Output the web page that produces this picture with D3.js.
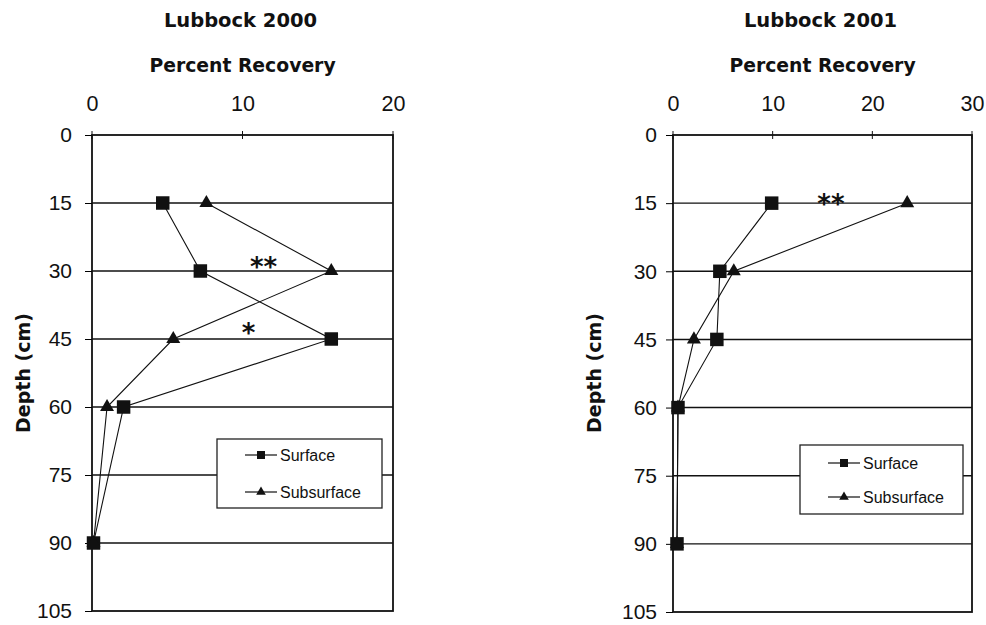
<!DOCTYPE html>
<html><head><meta charset="utf-8">
<script src="https://cdn.jsdelivr.net/npm/d3@7"></script>
<style>body{margin:0;background:#fff}svg{display:block}text{font-family:"Liberation Sans",Arial,sans-serif;fill:#111}</style>
</head><body><svg id="c" width="986" height="625"></svg>
<script>
const depths = [15, 30, 45, 60, 90];
const depthTicks = [0, 15, 30, 45, 60, 75, 90, 105];
const gridDepths = [15, 30, 45, 60, 75, 90];
const series = ["Surface", "Subsurface"];
// Lubbock 2000
const surface2000 = [4.7, 7.2, 15.9, 2.1, 0.1];
const subsurface2000 = [7.6, 15.9, 5.4, 1.0, 0.1];
const xTicks2000 = [0, 10, 20];
// Lubbock 2001
const surface2001 = [9.9, 4.7, 4.4, 0.5, 0.4];
const subsurface2001 = [23.5, 6.1, 2.1, 0.5, 0.4];
const xTicks2001 = [0, 10, 20, 30];
const stars2000 = [{x: 11.4, d: 27.8, t: "**"}, {x: 10.4, d: 42.4, t: "*"}];
const stars2001 = [{x: 15.85, d: 13.75, t: "**"}];

const svg = d3.select("#c");
const bold = "'DejaVu Sans',Verdana,sans-serif";

function panel(cfg) {
  const g = svg.append("g");
  const x = d3.scaleLinear().domain([0, cfg.xmax]).range([cfg.left, cfg.right]);
  const y = d3.scaleLinear().domain([0, 105]).range([cfg.top, cfg.bottom]);
  const cx = (cfg.left + cfg.right) / 2;
  g.append("text").attr("x", cx - 2).attr("y", 27).attr("text-anchor", "middle")
    .style("font-family", bold).style("font-weight", "bold").style("font-size", "19.5px").text(cfg.title);
  g.append("text").attr("x", cx).attr("y", 72).attr("text-anchor", "middle")
    .style("font-family", bold).style("font-weight", "bold").style("font-size", "18.8px").text("Percent Recovery");
  // grid
  g.selectAll(".grid").data(gridDepths).enter().append("line")
    .attr("x1", cfg.left).attr("x2", cfg.right)
    .attr("y1", d => y(d)).attr("y2", d => y(d))
    .attr("stroke", "#111").attr("stroke-width", 1.4);
  // frame
  g.append("rect").attr("x", cfg.left).attr("y", cfg.top)
    .attr("width", cfg.right - cfg.left).attr("height", cfg.bottom - cfg.top)
    .attr("fill", "none").attr("stroke", "#111").attr("stroke-width", 1.8);
  // axes
  const yAxis = d3.axisLeft(y).tickValues(depthTicks).tickSize(7).tickPadding(cfg.ypad);
  const ga = g.append("g").attr("transform", `translate(${cfg.left},0)`).call(yAxis);
  ga.select(".domain").remove();
  ga.selectAll("text").style("font-size", "21px").attr("dy", "0.32em").style("fill", "#111");
  const xAxis = d3.axisTop(x).tickValues(cfg.xticks).tickSize(0).tickPadding(0);
  const gx = g.append("g").attr("transform", `translate(0,111)`).call(xAxis);
  gx.select(".domain").remove();
  gx.selectAll("text").style("font-size", "21.5px").attr("dy", "0").style("fill", "#111");
  g.append("g").selectAll("line").data(cfg.xticks).enter().append("line")
    .attr("x1", d => x(d)).attr("x2", d => x(d)).attr("y1", cfg.top - 4).attr("y2", cfg.top + 4)
    .attr("stroke", "#111");
  // axis title
  g.append("text").attr("transform", `translate(${cfg.ylab},373) rotate(-90)`)
    .attr("text-anchor", "middle").attr("dy", "0.36em")
    .style("font-family", bold).style("font-weight", "bold").style("font-size", "19px").text("Depth (cm)");
  // legend
  const lg = g.append("g");
  lg.append("rect").attr("x", cfg.leg[0]).attr("y", cfg.leg[1]).attr("width", cfg.leg[2]).attr("height", cfg.leg[3])
    .attr("fill", "#fff").attr("stroke", "#222").attr("stroke-width", 1.3);
  series.forEach((s, i) => {
    const ly = cfg.leg[1] + (i === 0 ? cfg.legRows[0] : cfg.legRows[1]);
    const lx = cfg.leg[0] + 28;
    lg.append("line").attr("x1", lx).attr("x2", lx + 32).attr("y1", ly).attr("y2", ly).attr("stroke", "#111").attr("stroke-width", 1.2);
    lg.append("path").attr("d", d3.symbol(i === 0 ? d3.symbolSquare : d3.symbolTriangle, i === 0 ? 64 : 40)())
      .attr("transform", `translate(${lx + 16},${ly})`).attr("fill", "#111");
    lg.append("text").attr("x", lx + 35).attr("y", ly).attr("dy", "0.36em")
      .style("font-size", "16px").style("font-family", "'Liberation Sans Narrow','Liberation Sans',Arial").text(s);
  });
  // lines
  const line = d3.line().x(d => x(d[0])).y(d => y(d[1]));
  [cfg.surf, cfg.sub].forEach((vals) => {
    const pts = vals.map((v, j) => [v, depths[j]]);
    g.append("path").attr("d", line(pts)).attr("fill", "none").attr("stroke", "#111").attr("stroke-width", 1.1);
  });
  [cfg.surf, cfg.sub].forEach((vals, i) => {
    g.selectAll(null).data(vals.map((v, j) => [v, depths[j]])).enter().append("path")
      .attr("d", d3.symbol(i === 0 ? d3.symbolSquare : d3.symbolTriangle, i === 0 ? 182 : 85)())
      .attr("transform", d => `translate(${x(d[0])},${y(d[1])})`).attr("fill", "#111");
  });
  g.selectAll(null).data(cfg.stars).enter().append("text")
    .attr("x", d => x(d.x)).attr("y", d => y(d.d)).attr("text-anchor", "middle").attr("dy", "0.58em")
    .style("font-family", bold).style("font-weight", "bold").style("font-size", "26px").text(d => d.t);
}

panel({title: "Lubbock 2000", xmax: 20, xticks: xTicks2000, left: 92, right: 393, top: 135, bottom: 611,
  ypad: 13, ylab: 23, leg: [217, 439, 165, 69], legRows: [16, 53], surf: surface2000, sub: subsurface2000, stars: stars2000});
panel({title: "Lubbock 2001", xmax: 30, xticks: xTicks2001, left: 673, right: 972, top: 135, bottom: 612,
  ypad: 9, ylab: 594, leg: [800, 445, 163, 69], legRows: [18, 52], surf: surface2001, sub: subsurface2001, stars: stars2001});
</script></body></html>
